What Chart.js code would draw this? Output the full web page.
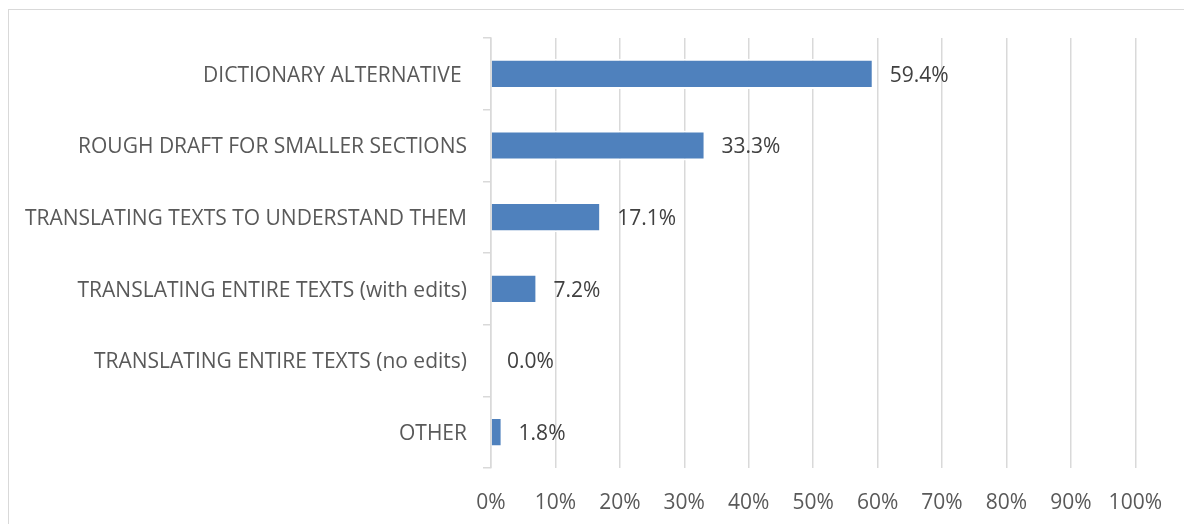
<!DOCTYPE html>
<html>
<head>
<meta charset="utf-8">
<script src="https://cdn.jsdelivr.net/npm/chart.js@4/dist/chart.umd.min.js"></script>
<style>
  html, body { margin: 0; padding: 0; background: #fff; }
  #frame { position: absolute; left: 8px; top: 9px; width: 1200px; height: 540px; border: 1px solid #d9d9d9; }
  #wrap { position: absolute; left: 0; top: 0; width: 1184px; height: 524px; }
</style>
</head>
<body>
<div id="frame"></div>
<div id="wrap"><canvas id="usageChart" width="1184" height="524"></canvas></div>
<script>
const categories = [
  'DICTIONARY ALTERNATIVE ',
  'ROUGH DRAFT FOR SMALLER SECTIONS',
  'TRANSLATING TEXTS TO UNDERSTAND THEM',
  'TRANSLATING ENTIRE TEXTS (with edits)',
  'TRANSLATING ENTIRE TEXTS (no edits)',
  'OTHER'
];
const shares = [59.4, 33.3, 17.1, 7.2, 0.0, 1.8];
const xTicks = [0, 10, 20, 30, 40, 50, 60, 70, 80, 90, 100];

const FONT = "'Open Sans', sans-serif";

// value text just right of each bar end
const barLabels = {
  id: 'barLabels',
  afterDatasetsDraw(chart) {
    const ctx = chart.ctx;
    const meta = chart.getDatasetMeta(0);
    ctx.save();
    ctx.font = '21px ' + FONT;
    ctx.fillStyle = '#404040';
    ctx.textAlign = 'left';
    ctx.textBaseline = 'middle';
    meta.data.forEach((bar, i) => {
      ctx.fillText(shares[i].toFixed(1) + '%', bar.x + 16, bar.y + 2);
    });
    ctx.restore();
  }
};

new Chart(document.getElementById('usageChart'), {
  type: 'bar',
  data: {
    labels: categories,
    datasets: [{
      data: shares,
      backgroundColor: '#4f81bd',
      borderColor: '#ffffff',
      borderWidth: 2,
      barPercentage: 1,
      categoryPercentage: 0.42
    }]
  },
  options: {
    indexAxis: 'y',
    responsive: false,
    animation: false,
    devicePixelRatio: 1,
    layout: { padding: { top: 38, right: 42, bottom: 0, left: 0 } },
    plugins: { legend: { display: false }, tooltip: { enabled: false } },
    scales: {
      x: {
        min: 0,
        max: 100,
        afterBuildTicks: s => { s.ticks = xTicks.map(v => ({ value: v })); },
        afterFit: s => { s.height = 56; },
        grid: { color: '#d9d9d9', lineWidth: 1.5, drawTicks: false },
        border: { display: false },
        ticks: {
          padding: 22,
          color: '#595959',
          font: { family: FONT, size: 21 },
          callback: v => v + '%'
        }
      },
      y: {
        afterFit: s => { s.width = 491; },
        grid: { offset: true, drawOnChartArea: false, drawTicks: true, tickLength: 8, color: '#d9d9d9', lineWidth: 1.5 },
        border: { display: true, color: '#d9d9d9', width: 1.5 },
        ticks: {
          padding: 16,
          labelOffset: 2,
          color: '#595959',
          font: { family: FONT, size: 21 }
        }
      }
    }
  },
  plugins: [barLabels]
});
</script>
</body>
</html>
